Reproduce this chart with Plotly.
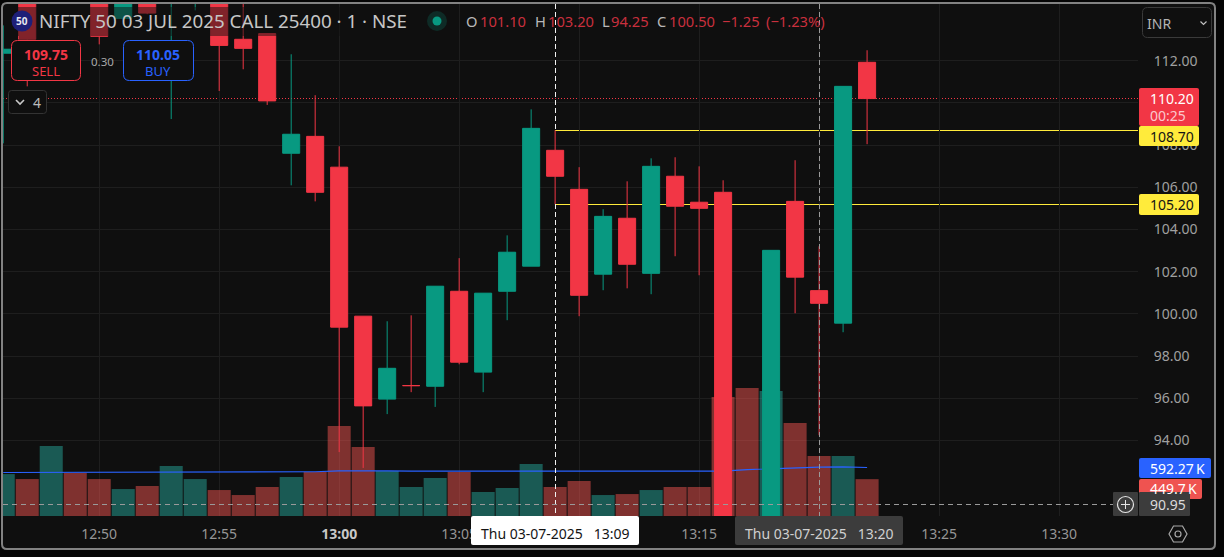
import plotly.graph_objects as go

times = ["12:46","12:47","12:48","12:49","12:50","12:51","12:52","12:53","12:54","12:55","12:56","12:57","12:58","12:59",
         "13:00","13:01","13:02","13:03","13:04","13:05","13:06","13:07","13:08","13:09","13:10","13:11","13:12","13:13",
         "13:14","13:15","13:16","13:17","13:18","13:19","13:20","13:21","13:22"]
opens  = [112.35,115.5,115.2,116.0,115.0,114.0,115.2,115.0,115.2,115.5,113.01,113.28,107.61,108.41,
          106.95,99.89,95.96,96.60,96.57,101.07,97.24,101.07,102.26,107.75,105.90,101.88,104.53,101.92,
          106.52,105.29,105.76,90.2,89.5,105.33,101.10,99.56,111.92]
highs  = [113.67,116.0,116.5,116.5,115.5,115.4,115.4,116.5,116.5,115.8,115.0,113.28,112.30,110.36,
          107.94,99.89,99.65,99.93,101.31,102.64,100.98,103.72,109.69,108.70,106.95,104.96,106.28,107.37,
          107.42,106.99,106.33,90.3,103.01,107.28,103.20,110.78,112.49]
lows   = [108.08,110.78,114.9,114.9,112.77,113.9,114.2,109.23,114.38,110.56,111.59,109.90,106.09,105.33,
          93.45,92.70,95.25,96.29,95.59,97.61,96.29,99.70,102.26,105.19,99.89,101.12,101.21,100.93,
          102.73,101.83,89.5,88.0,89.0,100.03,94.25,99.13,108.04]
closes = [112.54,113.01,116.0,115.0,113.15,115.2,114.25,116.0,116.0,112.72,112.58,110.09,108.51,105.76,
          99.37,95.64,97.42,96.60,101.31,97.71,100.98,102.92,108.79,106.52,100.88,104.62,102.35,106.99,
          105.10,105.00,90.0,88.5,103.01,101.74,100.50,110.78,110.20]
volumes = [512,451,854,525,451,329,366,610,451,317,256,354,476,537,
           1098,842,549,354,464,537,293,342,634,354,427,256,268,317,
           354,354,1452,1562,1525,1135,732,732,449.7]
volume_ma = [531,531,531,531,531,531,531,531,531,531,531,531,533,540,
             552,555,552,549,549,549,549,549,549,549,549,549,549,549,
             549,549,549,567,578,586,596,600,592.27]
price_ticks = [94,96,98,100,102,104,106,108,110,112]
price_tick_text = ["94.00","96.00","98.00","100.00","102.00","104.00","106.00","108.00","","112.00"]
time_ticks = ["12:50","12:55","13:00","13:05","13:10","13:15","13:20","13:25","13:30"]
time_tick_text = ["12:50","12:55","<b style='color:#C8C8C8'>13:00</b>","13:05","","13:15","","13:25","13:30"]
level_high, level_low, last_price, cross_price = 108.70, 105.20, 110.20, 90.95
price_min, price_max = 90.422, 114.682

DAY = "2025-07-03 "
x = [DAY + t for t in times]
UP, DOWN = "#089981", "#F23645"
BG = "#0F0F0F"
GRID = "#1E1E1E"
FONT = "Noto Sans"

bar_colors = ["rgba(38,166,154,0.5)" if c >= o else "rgba(239,83,80,0.5)" for o, c in zip(opens, closes)]

fig = go.Figure()
fig.add_trace(go.Bar(x=x, y=volumes, marker=dict(color=bar_colors, line_width=0), yaxis="y", showlegend=False))
fig.add_trace(go.Scatter(x=x, y=volume_ma, mode="lines", line=dict(color="#2962FF", width=1.2), yaxis="y", showlegend=False))
fig.add_trace(go.Candlestick(x=x, open=opens, high=highs, low=lows, close=closes, yaxis="y2", showlegend=False,
                             increasing=dict(line=dict(color=UP, width=1), fillcolor=UP),
                             decreasing=dict(line=dict(color=DOWN, width=1), fillcolor=DOWN),
                             whiskerwidth=0))

W, H = 1224, 557
L, R, T, B = 3, 1138, 4, 516
px = lambda v: (v - L) / (R - L)
py = lambda v: (B - v) / (B - T)

shapes, notes = [], []

def rrect(x0, y0, x1, y1, r=3, fill=None, line=None, lw=1, layer="above"):
    X0, X1, Y0, Y1 = px(x0), px(x1), py(y0), py(y1)
    rx, ry = r / (R - L), r / (B - T)
    d = (f"M{X0+rx},{Y0} L{X1-rx},{Y0} Q{X1},{Y0} {X1},{Y0-ry} L{X1},{Y1+ry} Q{X1},{Y1} {X1-rx},{Y1} "
         f"L{X0+rx},{Y1} Q{X0},{Y1} {X0},{Y1+ry} L{X0},{Y0-ry} Q{X0},{Y0} {X0+rx},{Y0} Z")
    shapes.append(dict(type="path", path=d, xref="paper", yref="paper", layer=layer,
                       fillcolor=fill or "rgba(0,0,0,0)", line=dict(color=line or "rgba(0,0,0,0)", width=lw if line else 0)))

def poly(points, color, lw=1.2, close=False, fill=None):
    d = "M" + " L".join(f"{px(a)},{py(b)}" for a, b in points) + (" Z" if close else "")
    shapes.append(dict(type="path", path=d, xref="paper", yref="paper", layer="above",
                       fillcolor=fill or "rgba(0,0,0,0)", line=dict(color=color, width=lw)))

def circle(cx, cy, r, fill=None, line=None, lw=1):
    shapes.append(dict(type="circle", xref="paper", yref="paper", layer="above",
                       x0=px(cx - r), x1=px(cx + r), y0=py(cy + r), y1=py(cy - r),
                       fillcolor=fill or "rgba(0,0,0,0)", line=dict(color=line or "rgba(0,0,0,0)", width=lw if line else 0)))

def text(s, cx, cy, size=14, color="#B4B4B4", anchor="center"):
    notes.append(dict(text=s, x=px(cx), y=py(cy), xref="paper", yref="paper", xanchor=anchor, yanchor="middle",
                      showarrow=False, font=dict(family=FONT, size=size, color=color), borderpad=0, borderwidth=0))

# frame
rrect(2, 3, 1215, 549, r=5, fill=BG, line="#828282", lw=2, layer="below")

# level lines, behind candles
for lv in (level_high, level_low):
    shapes.append(dict(type="line", xref="x", yref="y2", x0=DAY + "13:09", x1=DAY + "13:33:17", y0=lv, y1=lv,
                       layer="below", line=dict(color="#FFEB3B", width=1)))
shapes.append(dict(type="line", xref="paper", yref="y2", x0=0, x1=1, y0=last_price, y1=last_price, layer="below",
                   line=dict(color=DOWN, width=1, dash="1px 2px")))

# crosshairs, gapped where candle parts cover them
frac = lambda v: (v - price_min) / (price_max - price_min)
for t, top, bottom, col in ((DAY + "13:09", level_high, level_low, "#F2F2F2"), (DAY + "13:20", 101.12, 100.46, "#9A9A9A")):
    shapes.append(dict(type="line", xref="x", yref="paper", x0=t, x1=t, y0=py(T), y1=frac(top),
                       layer="above", line=dict(color=col, width=1, dash="5px 3px")))
    shapes.append(dict(type="line", xref="x", yref="paper", x0=t, x1=t, y0=frac(bottom), y1=0,
                       layer="above", line=dict(color=col, width=1, dash="5px 3px")))
shapes.append(dict(type="line", xref="paper", yref="y2", x0=0, x1=px(1113), y0=cross_price, y1=cross_price,
                   layer="above", line=dict(color="#9A9A9A", width=1, dash="5px 4px")))

# legend dimming strip
rrect(12, 7, 415, 36, r=0, fill="rgba(15,15,15,0.5)")
rrect(19, 36, 38, 40, r=0, fill="rgba(15,15,15,0.5)")

# legend
circle(22, 21, 10.5, fill="#1E1F78")
text("<b>50</b>", 22, 21, size=10, color="#E8E8F0")
text("NIFTY 50 03 JUL 2025 CALL 25400 · 1 · NSE", 39, 21, size=18.8, color="#C6C6C6", anchor="left")
circle(437, 21, 10, fill="rgba(8,153,129,0.2)")
circle(437, 21, 4.5, fill=UP)
RD = "#C9303E"
for s, xx, col in (("O", 466, "#B8B8B8"), ("101.10", 480, RD), ("H", 535, "#B8B8B8"), ("103.20", 548, RD),
                   ("L", 602, "#B8B8B8"), ("94.25", 611, RD), ("C", 657, "#B8B8B8"), ("100.50", 669, RD),
                   ("−1.25", 722, RD), ("(−1.23%)", 766, RD)):
    text(s, xx, 21, size=14.7, color=col, anchor="left")

# order buttons
rrect(11.5, 40.5, 80.5, 80.5, r=6, fill=BG, line=DOWN)
text("<b>109.75</b>", 46, 54, size=14, color=DOWN)
text("SELL", 46, 71, size=13, color=DOWN)
text("0.30", 102, 61, size=11.5, color="#A8A8A8")
rrect(123.5, 40.5, 193.5, 80.5, r=6, fill=BG, line="#2962FF")
text("<b>110.05</b>", 158, 54, size=14, color="#2962FF")
text("BUY", 158, 71, size=13, color="#2962FF")
rrect(8.5, 90.5, 46.5, 113.5, r=3, fill=BG, line="#333333")
poly([(16, 100), (20, 104), (24, 100)], "#C8C8C8", lw=1.6)
text("4", 37, 102, size=14, color="#BBBBBB")

# currency select
rrect(1142.5, 7.5, 1211.5, 37.5, r=5, fill=BG, line="#3A3A3A")
text("INR", 1147, 23, size=14, color="#B4B4B4", anchor="left")
poly([(1200.5, 21.5), (1203.5, 24.5), (1206.5, 21.5)], "#C0C0C0", lw=1.2)

# price labels
rrect(1139, 88, 1199, 126, r=2, fill=DOWN)
text("110.20", 1150, 98, size=14, color="#FFFFFF", anchor="left")
text("00:25", 1150, 115, size=14, color="#FBC8CD", anchor="left")
rrect(1139, 126, 1199, 146, r=2, fill="#FFEB3B")
text("108.70", 1150, 136, size=14, color="#141414", anchor="left")
rrect(1139, 194, 1199, 215, r=2, fill="#FFEB3B")
text("105.20", 1150, 204, size=14, color="#141414", anchor="left")
rrect(1139, 479, 1202, 499, r=2, fill="#EF5350")
text("449.7\u2009K", 1150, 488, size=14, color="#FFFFFF", anchor="left")
rrect(1139, 458, 1211, 478, r=2, fill="#2962FF")
text("592.27\u2009K", 1150, 468, size=14, color="#FFFFFF", anchor="left")
rrect(1113, 492, 1138, 516, r=1, fill="#3C3C3C")
circle(1125.5, 504.5, 8, line="#E4E4E4", lw=1.2)
poly([(1121, 504.5), (1130, 504.5)], "#E4E4E4", lw=1.2)
poly([(1125.5, 500), (1125.5, 509)], "#E4E4E4", lw=1.2)
rrect(1139, 492, 1190, 516, r=1, fill="#3C3C3C")
text("90.95", 1150, 504, size=14, color="#DADADA", anchor="left")

# time pills
rrect(471, 516, 639, 545, r=2, fill="#FFFFFF")
text("Thu 03-07-2025   13:09", 555, 533, size=14, color="#141414")
rrect(735, 516, 903, 545, r=2, fill="#3C3C3C")
text("Thu 03-07-2025   13:20", 819, 533, size=14, color="#D0D0D0")

# settings icon
poly([(1169, 534), (1173.5, 526), (1182.5, 526), (1187, 534), (1182.5, 542), (1173.5, 542)], "#A8A8A8", lw=1.2, close=True)
circle(1178, 534, 3, line="#A8A8A8", lw=1.2)

fig.update_layout(
    width=W, height=H, margin=dict(l=L, r=W - R, t=T, b=H - B, pad=0, autoexpand=False),
    paper_bgcolor="#050505", plot_bgcolor="rgba(0,0,0,0)", showlegend=False, dragmode=False,
    boxgap=0.29, boxgroupgap=0, bargap=0.04, barmode="overlay",
    font=dict(family=FONT, size=14, color="#969696"),
    xaxis=dict(type="date", range=[DAY + "12:45:59.4", DAY + "13:33:17.4"], rangeslider=dict(visible=False),
               tickmode="array", tickvals=[DAY + t for t in time_ticks], ticktext=time_tick_text,
               showgrid=True, gridcolor=GRID, gridwidth=1, zeroline=False, showline=False,
               ticks="outside", ticklen=5, tickcolor="rgba(0,0,0,0)", tickfont=dict(family=FONT, size=14, color="#969696")),
    yaxis=dict(range=[0, 6250], visible=False, fixedrange=True),
    yaxis2=dict(range=[price_min, price_max], overlaying="y", side="right", tickmode="array", tickvals=price_ticks,
                ticktext=price_tick_text, showgrid=True, gridcolor=GRID, gridwidth=1, zeroline=False, showline=False,
                ticks="outside", ticklen=12, tickcolor="rgba(0,0,0,0)", tickfont=dict(family=FONT, size=14, color="#A0A0A0")),
    shapes=shapes, annotations=notes,
)

crisp = ("document.body.style.margin='0';document.body.style.background='#050505';document.body.style.overflow='hidden';"
         "var crisp=function(){document.querySelectorAll('.shapelayer path').forEach(function(p){"
         "var d=p.getAttribute('d')||'';if(/^M[^LQCZA]*L[^LQCZA]*$/.test(d)){p.style.shapeRendering='crispEdges';}});};"
         "crisp();")
fig.write_html("out.html", config={"displayModeBar": False}, post_script=crisp)
